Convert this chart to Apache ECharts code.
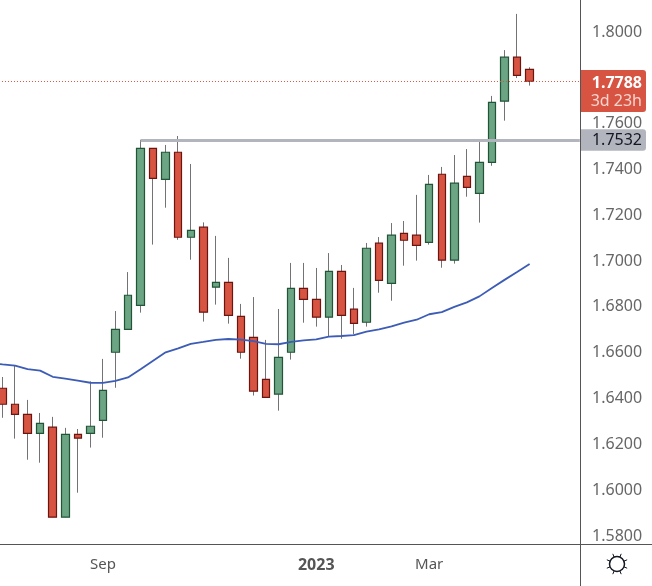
<!DOCTYPE html>
<html>
<head>
<meta charset="utf-8">
<title>Weekly chart</title>
<script src="https://cdn.jsdelivr.net/npm/echarts@6/dist/echarts.min.js"></script>
<style>
    html, body { margin: 0; padding: 0; background: #fff; }
    #main { width: 652px; height: 586px; }
</style>
</head>
<body>
<div id="main"></div>
<script>
// weeks, the first one lies just off the left edge and the last four are empty space
var weeks = [
    '2022-07-04', '2022-07-11', '2022-07-18', '2022-07-25', '2022-08-01', '2022-08-08', '2022-08-15', '2022-08-22',
    '2022-08-29', '2022-09-05', '2022-09-12', '2022-09-19', '2022-09-26', '2022-10-03', '2022-10-10', '2022-10-17',
    '2022-10-24', '2022-10-31', '2022-11-07', '2022-11-14', '2022-11-21', '2022-11-28', '2022-12-05', '2022-12-12',
    '2022-12-19', '2022-12-26', '2023-01-02', '2023-01-09', '2023-01-16', '2023-01-23', '2023-01-30', '2023-02-06',
    '2023-02-13', '2023-02-20', '2023-02-27', '2023-03-06', '2023-03-13', '2023-03-20', '2023-03-27', '2023-04-03',
    '2023-04-10', '2023-04-17', '2023-04-24', '2023-05-01', '2023-05-08', '2023-05-15', '2023-05-22', '2023-05-29'
];
var opens = [
    null, 1.6445, 1.6375, 1.6331, 1.6248, 1.6275, 1.5882, 1.6244, 1.6248, 1.6305, 1.6602, 1.6702,
    1.6807, 1.7492, 1.7357, 1.7475, 1.7104, 1.7148, 1.6886, 1.6907, 1.6759, 1.6667, 1.6484, 1.6419,
    1.6602, 1.6881, 1.6833, 1.6755, 1.6955, 1.6790, 1.6733, 1.7078, 1.6903, 1.7121, 1.7113, 1.7082,
    1.7379, 1.7004, 1.7370, 1.7296, 1.7431, 1.7698, 1.7890, 1.7837
];
var closes = [
    null, 1.6375, 1.6331, 1.6248, 1.6292, 1.5882, 1.6244, 1.6227, 1.6279, 1.6436, 1.6702, 1.6851,
    1.7492, 1.7361, 1.7475, 1.7104, 1.7134, 1.6777, 1.6907, 1.6763, 1.6602, 1.6432, 1.6405, 1.6580,
    1.6881, 1.6833, 1.6755, 1.6955, 1.6763, 1.6728, 1.7056, 1.6916, 1.7113, 1.7091, 1.7069, 1.7335,
    1.7004, 1.7340, 1.7322, 1.7431, 1.7693, 1.7890, 1.7811, 1.7785
];
var lows = [
    null, 1.6316, 1.6225, 1.6133, 1.6120, 1.5882, 1.5882, 1.5989, 1.6186, 1.6229, 1.6447, 1.6702,
    1.6775, 1.7072, 1.7233, 1.7093, 1.7006, 1.6736, 1.6810, 1.6727, 1.6574, 1.6413, 1.6405, 1.6347,
    1.6570, 1.6731, 1.6714, 1.6673, 1.6661, 1.6680, 1.6714, 1.6862, 1.6827, 1.6980, 1.7002, 1.7072,
    1.6971, 1.6989, 1.7281, 1.7168, 1.7416, 1.7613, 1.7799, 1.7766
];
var highs = [
    null, 1.6494, 1.6545, 1.6394, 1.6337, 1.6320, 1.6272, 1.6267, 1.6475, 1.6573, 1.6782, 1.6952,
    1.7529, 1.7492, 1.7507, 1.7546, 1.7424, 1.7169, 1.7110, 1.7014, 1.6813, 1.6843, 1.6656, 1.6791,
    1.6992, 1.6992, 1.6970, 1.7035, 1.6983, 1.6883, 1.7079, 1.7105, 1.7166, 1.7175, 1.7289, 1.7376,
    1.7411, 1.7463, 1.7489, 1.7520, 1.7721, 1.7921, 1.8079, 1.7846
];
var movingAvg = [
    1.6555, 1.6549, 1.6544, 1.6528, 1.6522, 1.6495, 1.6487, 1.6478, 1.6469, 1.6468, 1.6477, 1.6492,
    1.6528, 1.6565, 1.6602, 1.6619, 1.6639, 1.6647, 1.6656, 1.6660, 1.6657, 1.6651, 1.6639, 1.6637,
    1.6647, 1.6654, 1.6658, 1.6670, 1.6673, 1.6677, 1.6692, 1.6702, 1.6715, 1.6731, 1.6744, 1.6768,
    1.6777, 1.6800, 1.6820, 1.6846, 1.6883, 1.6918, 1.6952, 1.6987
];
var timeLabels = { '2022-09-05': 'Sep', '2023-01-02': '2023', '2023-03-06': 'Mar' };
var lastPrice = 1.7785;
var lastPriceText = '1.7788';
var countdownText = '3d 23h';
var levelPrice = 1.7527;
var levelText = '1.7532';
var levelStart = '2022-09-26';

var font = '"Noto Sans", sans-serif';

var wickData = weeks.map(function (w, i) {
    return opens[i] == null ? '-' : [opens[i], closes[i], lows[i], highs[i]];
});
var bodyData = weeks.map(function (w, i) {
    if (opens[i] == null) return '-';
    return [opens[i], closes[i], Math.min(opens[i], closes[i]), Math.max(opens[i], closes[i])];
});

var mainChart = echarts.init(document.getElementById('main'));
mainChart.setOption({
    animation: false,
    backgroundColor: '#fff',
    grid: { left: -16.32, top: 32, width: 602.4, height: 504, outerBoundsMode: 'none' },
    xAxis: {
        type: 'category',
        data: weeks,
        axisLine: { show: false },
        axisTick: { show: false },
        axisLabel: {
            margin: 21,
            fontFamily: font,
            fontSize: 15,
            color: '#555',
            interval: function (i, w) { return !!timeLabels[w]; },
            formatter: function (w) { return w == '2023-01-02' ? '{year|' + timeLabels[w] + '}' : timeLabels[w]; },
            rich: { year: { fontFamily: font, fontSize: 16, fontWeight: 'bold', color: '#555' } }
        }
    },
    yAxis: {
        type: 'value',
        position: 'right',
        min: 1.58,
        max: 1.80,
        interval: 0.02,
        axisLine: { show: false },
        axisTick: { show: false },
        splitLine: { show: false },
        axisLabel: {
            margin: 6,
            padding: [2, 0, 0, 0],
            fontFamily: font,
            fontSize: 16,
            color: '#666',
            formatter: function (v) { return v.toFixed(4); }
        }
    },
    series: [
        {
            name: 'wicks',
            type: 'candlestick',
            clip: false,
            barWidth: 0.5,
            data: wickData,
            itemStyle: { color: '#737375', color0: '#737375', borderColor: '#737375', borderColor0: '#737375', borderWidth: 1 },
            markLine: {
                silent: true,
                symbol: 'none',
                label: { show: false },
                data: [
                    [
                        { coord: [levelStart, levelPrice], lineStyle: { color: '#b2b5be', width: 3, type: 'solid' } },
                        { coord: [weeks[weeks.length - 1], levelPrice] }
                    ],
                    [
                        { coord: [weeks[0], lastPrice], lineStyle: { color: '#d75442', width: 1, type: [1, 2] } },
                        { coord: [weeks[weeks.length - 1], lastPrice] }
                    ]
                ]
            }
        },
        {
            name: 'bodies',
            type: 'candlestick',
            clip: false,
            barWidth: 8,
            data: bodyData,
            itemStyle: { color: '#6ba583', color0: '#d75442', borderColor: '#225437', borderColor0: '#6b1510', borderWidth: 1.2 }
        },
        {
            name: 'MA',
            type: 'line',
            data: movingAvg,
            showSymbol: false,
            lineStyle: { color: '#3c5cb5', width: 1.8 }
        }
    ]
});

// price tags sit on the price scale, placed from the axis
var lastY = mainChart.convertToPixel({ yAxisIndex: 0 }, lastPrice);
var levelY = mainChart.convertToPixel({ yAxisIndex: 0 }, levelPrice);
var frameColor = '#555';
var sun = [
    { type: 'circle', shape: { cx: 617, cy: 564, r: 7.5 }, style: { fill: 'none', stroke: '#131722', lineWidth: 1.5 } }
];
for (var a = 0; a < 8; a++) {
    var ang = (a * 45 + 22.5) * Math.PI / 180;
    sun.push({
        type: 'line',
        shape: {
            x1: 617 + 7.5 * Math.cos(ang), y1: 564 + 7.5 * Math.sin(ang),
            x2: 617 + 11 * Math.cos(ang), y2: 564 + 11 * Math.sin(ang)
        },
        style: { stroke: '#131722', lineWidth: 1 }
    });
}
mainChart.setOption({
    graphic: [
        { type: 'line', z: 5, shape: { x1: 580.5, y1: 0, x2: 580.5, y2: 586 }, style: { stroke: frameColor, lineWidth: 1 } },
        { type: 'line', z: 5, shape: { x1: 0, y1: 544.5, x2: 652, y2: 544.5 }, style: { stroke: frameColor, lineWidth: 1 } },
        { type: 'rect', z: 6, shape: { x: 581, y: lastY - 11.3, width: 65, height: 42, r: [0, 3, 3, 0] }, style: { fill: '#d75442' } },
        { type: 'text', z: 7, style: { x: 642, y: lastY + 2, text: lastPriceText, align: 'right', verticalAlign: 'middle', font: 'bold 16px ' + font, fill: '#fff' } },
        { type: 'text', z: 7, style: { x: 642, y: lastY + 20, text: countdownText, align: 'right', verticalAlign: 'middle', font: '16px ' + font, fill: '#f6d5d0' } },
        { type: 'rect', z: 6, shape: { x: 581, y: levelY - 11, width: 65, height: 21.5, r: [0, 3, 3, 0] }, style: { fill: '#b2b5be' } },
        { type: 'text', z: 7, style: { x: 642, y: levelY + 0.5, text: levelText, align: 'right', verticalAlign: 'middle', font: '16px ' + font, fill: '#131722' } },
        { type: 'group', z: 5, children: sun }
    ]
});
</script>
</body>
</html>
